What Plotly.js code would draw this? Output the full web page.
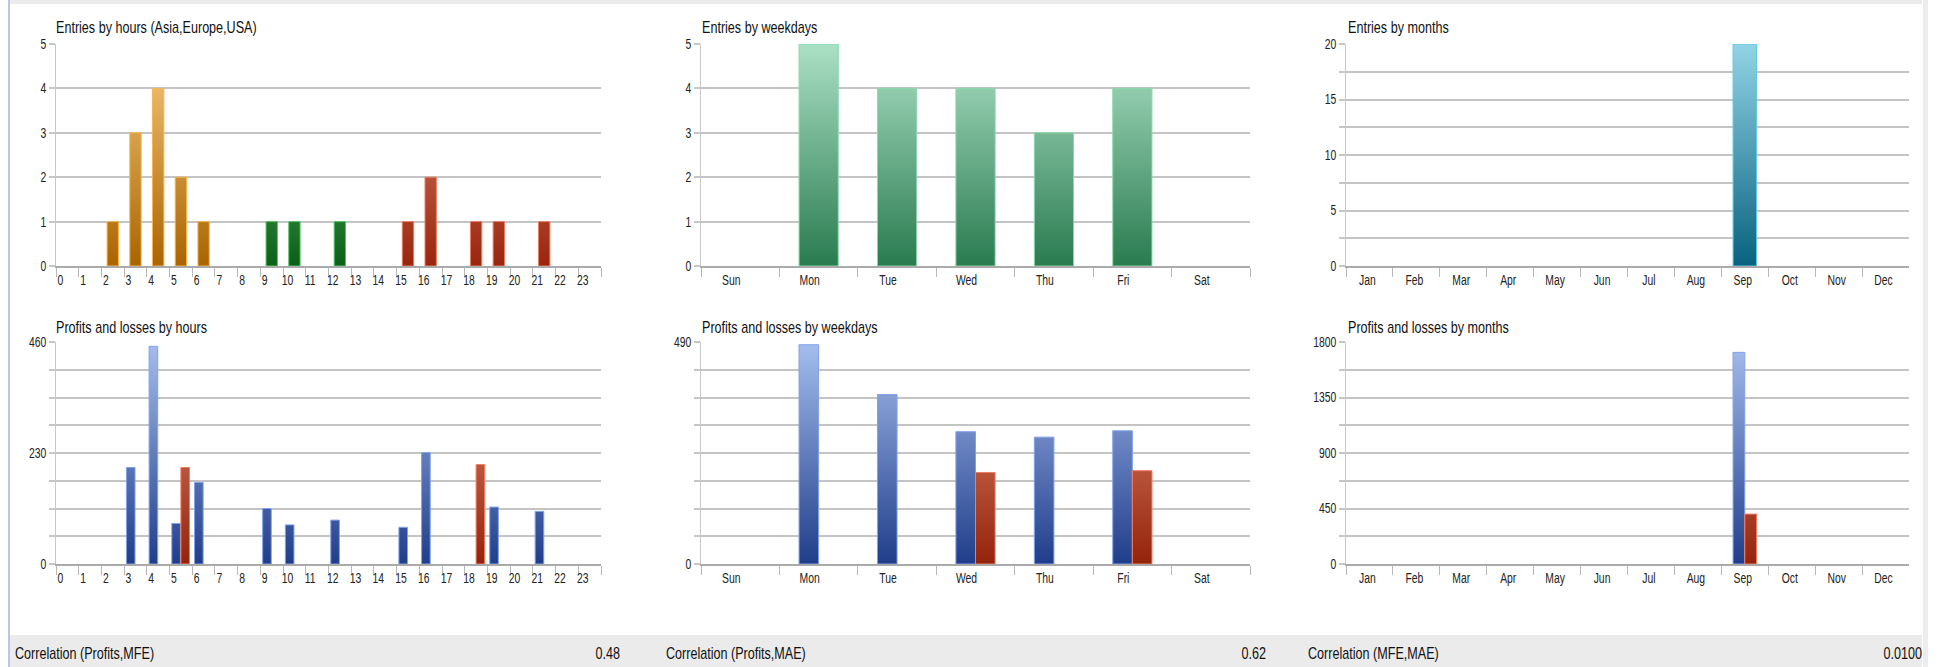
<!DOCTYPE html>
<html>
<head>
<meta charset="utf-8">
<script src="https://cdn.plot.ly/plotly-3.0.1.min.js"></script>
<style>
html,body{margin:0;padding:0;background:#ffffff;overflow:hidden;}
#chart{width:1944px;height:667px;}
</style>
</head>
<body>
<div id="chart"></div>
<script>
// ---------- data ----------
const hours = ['0','1','2','3','4','5','6','7','8','9','10','11','12','13','14','15','16','17','18','19','20','21','22','23'];
const weekdays = ['Sun','Mon','Tue','Wed','Thu','Fri','Sat'];
const months = ['Jan','Feb','Mar','Apr','May','Jun','Jul','Aug','Sep','Oct','Nov','Dec'];

const entriesAsia   = [0,0,1,3,4,2,1,0,0,0,0,0,0,0,0,0,0,0,0,0,0,0,0,0];
const entriesEurope = [0,0,0,0,0,0,0,0,0,1,1,0,1,0,0,0,0,0,0,0,0,0,0,0];
const entriesUSA    = [0,0,0,0,0,0,0,0,0,0,0,0,0,0,0,1,2,0,1,1,0,1,0,0];

const profitsByHour = [0,0,0,200,451,84,169,0,0,115,81,0,91,0,0,76,231,0,0,118,0,109,0,0];
const lossesByHour  = [0,0,0,0,0,200,0,0,0,0,0,0,0,0,0,0,0,0,206,0,0,0,0,0];

const entriesByWeekday = [0,5,4,4,3,4,0];
const profitsByWeekday = [0,484,374,292,280,294,0];
const lossesByWeekday  = [0,0,0,202,0,206,0];

const entriesByMonth = [0,0,0,0,0,0,0,0,20,0,0,0];
const profitsByMonth = [0,0,0,0,0,0,0,0,1716,0,0,0];
const lossesByMonth  = [0,0,0,0,0,0,0,0,405,0,0,0];

const panelTitles = ['Entries by hours (Asia,Europe,USA)','Entries by weekdays','Entries by months',
                     'Profits and losses by hours','Profits and losses by weekdays','Profits and losses by months'];
const correlationLabels = ['Correlation (Profits,MFE)','Correlation (Profits,MAE)','Correlation (MFE,MAE)'];
const correlationValues = ['0.48','0.62','0.0100'];

// ---------- styling helpers ----------
const W = 1944, H = 667;
const px = v => v / W;
const py = v => 1 - v / H;
const FONT = '"Liberation Sans", Arial, sans-serif';
const SQUEEZE = 0.74;   // horizontal narrowing of all text glyphs

const gradients = {
  asia:    ['#f7cb80', '#aa6400'],
  europe:  ['#86d08e', '#0b5f16'],
  usa:     ['#e5927a', '#98260d'],
  week:    ['#abe0c5', '#2a7b50'],
  month:   ['#92d4e6', '#08627f'],
  profit:  ['#a6beee', '#203d8a'],
  loss:    ['#ea977b', '#94230b']
};
const borders = {
  asia:'#f8b54c', europe:'#52c465', usa:'#ec7c62', week:'#8ad9aa',
  month:'#60c8e4', profit:'#80a2ea', loss:'#f27c64'
};
const solids = {
  asia:'#cf8f2c', europe:'#1d7f2a', usa:'#b5452d', week:'#5fae84',
  month:'#3c98b3', profit:'#4a68b4', loss:'#b8442a'
};

function bar(x, y, xa, ya, key, width, offset) {
  const t = {
    type:'bar', x:x, y:y, xaxis:xa, yaxis:ya, meta:key, width:width,
    marker:{color:solids[key], line:{color:borders[key], width:y.map(v => v > 0 ? 1 : 0)}},
    hoverinfo:'skip', showlegend:false
  };
  if (offset !== undefined) t.offset = offset;
  return t;
}

const data = [
  bar(hours, entriesAsia,   'x',  'y',  'asia',   0.5),
  bar(hours, entriesEurope, 'x',  'y',  'europe', 0.5),
  bar(hours, entriesUSA,    'x',  'y',  'usa',    0.5),
  bar(weekdays, entriesByWeekday, 'x2', 'y2', 'week', 0.5),
  bar(months, entriesByMonth, 'x3', 'y3', 'month', 0.5),
  bar(hours, profitsByHour, 'x4', 'y4', 'profit', 0.38, -0.4),
  bar(hours, lossesByHour,  'x4', 'y4', 'loss',   0.38, 0.0),
  bar(weekdays, profitsByWeekday, 'x5', 'y5', 'profit', 0.25, -0.25),
  bar(weekdays, lossesByWeekday,  'x5', 'y5', 'loss',   0.25, 0.0),
  bar(months, profitsByMonth, 'x6', 'y6', 'profit', 0.25, -0.25),
  bar(months, lossesByMonth,  'x6', 'y6', 'loss',   0.25, 0.0)
];

const colX = [[56,601],[701,1250],[1346,1909]];
const rowY = [[44,266],[342,564]];

function xAxis(col, row, anchor, n, shift) {
  return {
    domain:[px(colX[col][0]), px(colX[col][1])], anchor:anchor,
    type:'category', range:[-0.5, n-0.5], tickson:'boundaries',
    ticks:'outside', ticklen:9, tickcolor:'#b8b8b8', tickwidth:1,
    showline:true, linecolor:'#aaaaaa', linewidth:2, tickangle:0,
    showgrid:false, zeroline:false, fixedrange:true, automargin:false,
    tickfont:{family:FONT, size:14, color:'#222222'}, ticklabelshift:shift
  };
}
function yAxis(col, row, anchor, range, dtick, minor) {
  const a = {
    domain:[py(rowY[row][1]), py(rowY[row][0])], anchor:anchor,
    range:range, tick0:0, dtick:dtick,
    ticks:'outside', ticklen:6, tickcolor:'#c6c6c6', tickwidth:2,
    showline:true, linecolor:'#c8c8c8', linewidth:1,
    showgrid:true, gridcolor:'#c4c4c4', gridwidth:2,
    zeroline:false, fixedrange:true, automargin:false,
    tickfont:{family:FONT, size:14, color:'#222222'}
  };
  if (minor) a.minor = {dtick:minor, tick0:0, showgrid:true, gridcolor:'#c4c4c4', gridwidth:2,
                        ticks:'outside', ticklen:6, tickcolor:'#c6c6c6', tickwidth:2};
  return a;
}

const titlePos = [[54,28],[700,28],[1346,28],[54,327],[700,327],[1346,327]];
const annotations = panelTitles.map((t,i) => ({
  text:t, xref:'paper', yref:'paper', x:px(titlePos[i][0]), y:py(titlePos[i][1]),
  xanchor:'left', yanchor:'middle', align:'left', showarrow:false,
  font:{family:FONT, size:17, color:'#111111'}
}));
const corrLabelX = [13, 664, 1306];
const corrValueX = [622, 1268, 1924];
correlationLabels.forEach((t,i) => {
  annotations.push({text:t, xref:'paper', yref:'paper', x:px(corrLabelX[i]), y:py(653),
    xanchor:'left', yanchor:'middle', align:'left', showarrow:false, font:{family:FONT, size:17, color:'#111111'}});
  annotations.push({text:correlationValues[i], xref:'paper', yref:'paper', x:px(corrValueX[i]), y:py(653),
    xanchor:'right', yanchor:'middle', align:'right', showarrow:false, font:{family:FONT, size:17, color:'#111111'}});
});

const shapes = [
  {type:'rect', xref:'paper', yref:'paper', x0:px(10), x1:px(1922), y0:py(4), y1:py(0), fillcolor:'#ebebeb', line:{width:0}, layer:'below'},
  {type:'rect', xref:'paper', yref:'paper', x0:px(10), x1:px(1922), y0:py(667), y1:py(635), fillcolor:'#ebebeb', line:{width:0}, layer:'below'},
  {type:'rect', xref:'paper', yref:'paper', x0:px(8), x1:px(10), y0:0, y1:1, fillcolor:'#b6c8e2', line:{width:0}, layer:'below'},
  {type:'rect', xref:'paper', yref:'paper', x0:px(1923), x1:px(1928), y0:0, y1:1, fillcolor:'#ededed', line:{width:0}, layer:'below'}
];

const layout = {
  width:W, height:H, margin:{l:0,r:0,t:0,b:0},
  paper_bgcolor:'#ffffff', plot_bgcolor:'#ffffff',
  barmode:'overlay', showlegend:false,
  font:{family:FONT, size:14, color:'#222222'},
  xaxis:  xAxis(0,0,'y',  24, -7),
  yaxis:  yAxis(0,0,'x',  [0,5], 1),
  xaxis2: xAxis(1,0,'y2', 7, -9),
  yaxis2: yAxis(1,0,'x2', [0,5], 1),
  xaxis3: xAxis(2,0,'y3', 12, -2),
  yaxis3: yAxis(2,0,'x3', [0,20], 5, 2.5),
  xaxis4: xAxis(0,1,'y4', 24, -7),
  yaxis4: yAxis(0,1,'x4', [0,460], 230, 57.5),
  xaxis5: xAxis(1,1,'y5', 7, -9),
  yaxis5: yAxis(1,1,'x5', [0,490], 490, 61.25),
  xaxis6: xAxis(2,1,'y6', 12, -2),
  yaxis6: yAxis(2,1,'x6', [0,1800], 450, 225),
  annotations:annotations, shapes:shapes
};

function applyGradients(gd) {
  const ns = 'http://www.w3.org/2000/svg';
  const svg = gd.querySelector('svg.main-svg');
  let defs = svg.querySelector('defs');
  if (!defs) { defs = document.createElementNS(ns,'defs'); svg.insertBefore(defs, svg.firstChild); }
  const plotH = gd._fullLayout.yaxis._length;
  Object.keys(gradients).forEach(k => {
    const g = document.createElementNS(ns,'linearGradient');
    g.setAttribute('id','grad-'+k);
    g.setAttribute('gradientUnits','userSpaceOnUse');
    g.setAttribute('x1','0'); g.setAttribute('x2','0');
    g.setAttribute('y1','0'); g.setAttribute('y2', String(plotH));
    [[0,gradients[k][0]],[1,gradients[k][1]]].forEach(s => {
      const st = document.createElementNS(ns,'stop');
      st.setAttribute('offset', String(s[0]));
      st.setAttribute('stop-color', s[1]);
      g.appendChild(st);
    });
    defs.appendChild(g);
  });
  gd.querySelectorAll('.barlayer .trace').forEach(tr => {
    const cd = tr.__data__;
    if (!cd || !cd[0] || !cd[0].trace) return;
    const key = cd[0].trace.meta;
    if (!gradients[key]) return;
    tr.querySelectorAll('path').forEach(p => { p.style.fill = 'url(#grad-' + key + ')'; });
  });
  return gd;
}

function narrowText(gd) {
  gd.querySelectorAll('svg text').forEach(t => {
    if (!t.textContent) return;
    const w = t.getComputedTextLength();
    if (w > 0) {
      t.setAttribute('textLength', (w * SQUEEZE).toFixed(2));
      t.setAttribute('lengthAdjust', 'spacingAndGlyphs');
    }
  });
  return gd;
}

Plotly.newPlot('chart', data, layout, {staticPlot:true, displayModeBar:false, responsive:false})
  .then(applyGradients).then(narrowText);
</script>
</body>
</html>
